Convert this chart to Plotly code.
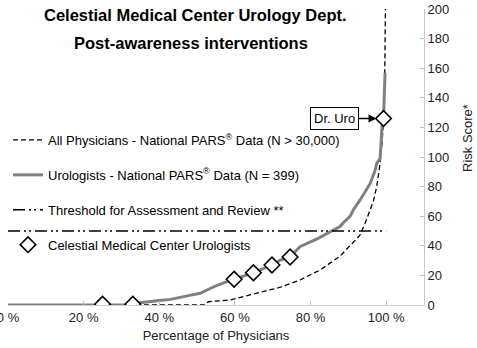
import plotly.graph_objects as go

# Cumulative distribution of risk scores (percentage of physicians vs score)
all_pct = [0, 52, 53, 58.7, 64, 69.3, 72, 77.2, 82.5, 87.8, 91.3, 93, 94.4, 95.5,
           96.6, 97.5, 98.2, 98.9, 99.3, 99.6, 99.8]
all_score = [0, 0, 2.2, 3.4, 6.8, 10.1, 12, 16.9, 23.6, 33, 42, 47, 55, 62,
             70, 80, 92, 109, 125, 150, 200]

uro_pct = [0, 34.5, 35, 37, 40, 43, 46, 48, 50.8, 53.4, 55, 57, 59.8, 62, 64.9,
           67, 69.8, 72, 74.6, 77.2, 80, 82, 85.2, 87.8, 88.6, 90.5, 91.3, 93.1,
           95.8, 97.1, 97.5, 98.4, 98.9, 99.3, 99.7]
uro_score = [0, 0, 1.5, 2.2, 3, 3.8, 5.6, 6.5, 7.9, 11.3, 13, 15, 17.4, 19, 21.8,
             24, 27, 30.4, 32.4, 39.4, 42.8, 45, 49.5, 53, 55.4, 60, 64.2, 71,
             82.3, 91.2, 95.7, 99, 120.5, 126, 157]

threshold_pct = [0, 100]
threshold_score = [50, 50]

celestial_pct = [25, 33, 59.8, 64.9, 69.8, 74.6, 99.3]
celestial_score = [0.5, 0.5, 17.4, 21.8, 27, 32.4, 126]

x_ticks = [0, 20, 40, 60, 80, 100]
x_tick_labels = ["0 %", "20 %", "40 %", "60 %", "80 %", "100 %"]
y_ticks = list(range(0, 201, 20))

FONT = "Liberation Sans, Arial, sans-serif"

fig = go.Figure()

fig.add_trace(go.Scatter(
    x=all_pct, y=all_score, mode="lines",
    name="All Physicians - National PARS<sup>®</sup> Data (N > 30,000)",
    line=dict(color="black", width=1.3, dash="5px,3px"),
    legendgroup="a",
))
fig.add_trace(go.Scatter(
    x=uro_pct, y=uro_score, mode="lines",
    name="Urologists - National PARS<sup>®</sup> Data (N = 399)",
    line=dict(color="#808080", width=3),
    legendgroup="b",
))
fig.add_trace(go.Scatter(
    x=threshold_pct, y=threshold_score, mode="lines",
    name="Threshold for Assessment and Review **",
    line=dict(color="black", width=1.5, dash="12px,4px,2px,3px,2px,4px"),
    legendgroup="c",
))
fig.add_trace(go.Scatter(
    x=celestial_pct, y=celestial_score, mode="markers",
    name="Celestial Medical Center Urologists",
    marker=dict(symbol="diamond", size=12, color="white",
                line=dict(color="black", width=1.6)),
    legendgroup="d",
))

fig.add_annotation(
    x=celestial_pct[-1], y=celestial_score[-1], text="Dr. Uro",
    showarrow=True, arrowhead=2, arrowsize=1, arrowwidth=1.6, arrowcolor="black",
    ax=-49, ay=0, standoff=7,
    bordercolor="black", borderwidth=1, borderpad=3, bgcolor="white",
    font=dict(family=FONT, size=13, color="black"),
)

# Chart title (two lines)
fig.add_annotation(
    xref="paper", yref="paper", x=(195 - 8) / 416, y=(305 - 15) / 296,
    text="<b>Celestial Medical Center Urology Dept.</b>", showarrow=False,
    font=dict(family=FONT, size=16.5, color="black"), xanchor="center", yanchor="middle",
)
fig.add_annotation(
    xref="paper", yref="paper", x=(191 - 8) / 416, y=(305 - 43) / 296,
    text="<b>Post-awareness interventions</b>", showarrow=False,
    font=dict(family=FONT, size=16.5, color="black"), xanchor="center", yanchor="middle",
)

# Right-hand axis title
fig.add_annotation(
    xref="paper", yref="paper", x=(467 - 8) / 416, y=(305 - 138) / 296,
    text="Risk Score*", showarrow=False, textangle=-90,
    font=dict(family=FONT, size=13, color="#222"), xanchor="center", yanchor="middle",
)

fig.update_layout(
    width=477, height=348,
    margin=dict(l=8, r=53, t=9, b=43, autoexpand=False),
    paper_bgcolor="white", plot_bgcolor="white",
    font=dict(family=FONT, size=13, color="#222"),
    showlegend=True,
    legend=dict(
        x=0.0, y=(305 - 125) / 296, xanchor="left", yanchor="top",
        bgcolor="rgba(0,0,0,0)", traceorder="grouped", tracegroupgap=15,
        font=dict(family=FONT, size=13, color="black"),
        itemwidth=30,
    ),
    xaxis=dict(
        range=[0, 110], tickvals=x_ticks, ticktext=x_tick_labels,
        ticklabeloverflow="allow", automargin=False,
        showgrid=False, zeroline=False,
        showline=True, linecolor="#d0d0d0", linewidth=1,
        ticks="inside", ticklen=4, tickcolor="#c0c0c0",
        tickfont=dict(size=13, color="#222"),
        title=dict(text="Percentage of Physicians", font=dict(size=13, color="#222"),
                   standoff=7),
    ),
    yaxis=dict(
        range=[0, 200], tickvals=y_ticks, side="right", automargin=False,
        showgrid=False, zeroline=False,
        showline=True, linecolor="#c8c8c8", linewidth=1,
        ticks="inside", ticklen=4, tickcolor="#c0c0c0",
        tickfont=dict(size=13, color="#222"),
    ),
)

fig.write_html("out.html")
